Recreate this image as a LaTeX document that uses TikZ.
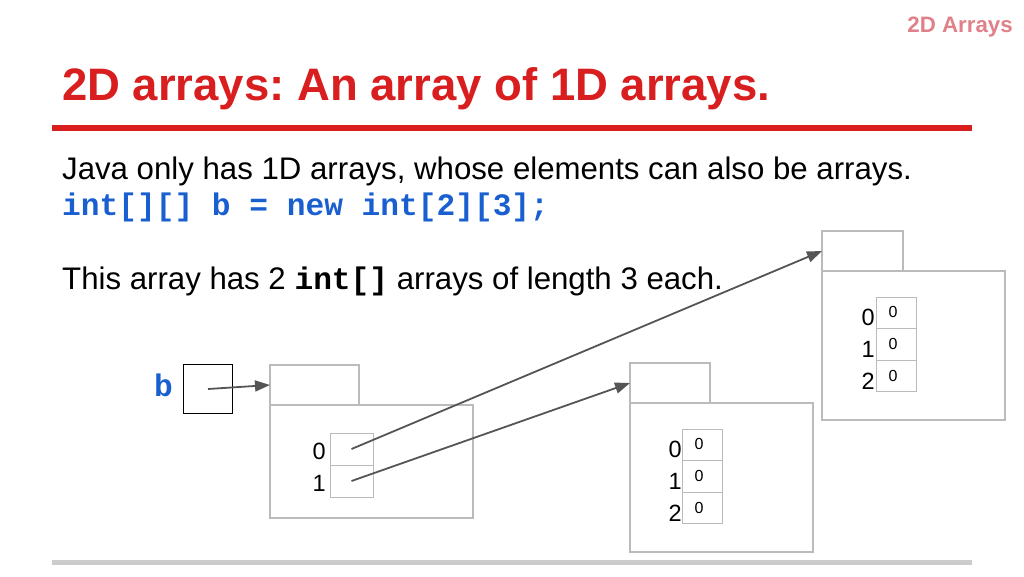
\documentclass[tikz,border=0pt]{standalone}
\usepackage{fontspec}
\setmainfont{Liberation Sans}
\setmonofont{Liberation Mono}
\usetikzlibrary{arrows.meta}
\frenchspacing
\definecolor{titlered}{HTML}{D81E1E}
\definecolor{codeblue}{HTML}{1A5FD0}
\definecolor{hdrpink}{HTML}{E08088}
\definecolor{boxgray}{HTML}{BBBBBB}
\definecolor{arrowgray}{HTML}{555555}
\definecolor{rulegray}{HTML}{CCCCCC}
\newcommand{\fs}[1]{\fontsize{#1pt}{#1pt}\selectfont}
\tikzset{
  objbox/.style={draw=boxgray, line width=1.5pt, inner sep=0pt, outer sep=0pt, anchor=north west},
  cellbox/.style={draw=boxgray, line width=1pt, minimum width=40pt, minimum height=31.5pt, inner sep=0pt, outer sep=0pt},
  val/.style={font=\fs{16}, inner sep=0pt},
  idx/.style={font=\fs{23.5}, inner sep=0pt, anchor=east},
  ptr/.style={draw=arrowgray, line width=1.8pt, -{Triangle[length=15pt,width=11pt]}},
}
\begin{document}
\begin{tikzpicture}[x=1pt,y=-1pt]
\useasboundingbox (0,0) rectangle (1024,576);
% header
\node[anchor=base east, inner sep=0pt, text=hdrpink, font=\bfseries\fs{22.3}] (hdr) at (1013,32) {2D Arrays};
\node[anchor=base west, inner sep=0pt, text=titlered, font=\bfseries\fs{45.5}] (title) at (62,100) {2D arrays: An array of 1D arrays.};
\draw[titlered, line width=6pt] (52,128) -- (972,128);
\draw[rulegray, line width=5pt] (52,562) -- (972,562);
% body text
\node[anchor=base west, inner sep=0pt, font=\fs{31.2}] (l1) at (62,179) {Java only has 1D arrays, whose elements can also be arrays.};
\node[anchor=base west, inner sep=0pt, text=codeblue, font=\ttfamily\bfseries\fs{31.2}] (l2) at (62,215) {int[][] b = new int[2][3];};
\node[anchor=base west, inner sep=0pt, font=\fs{31.2}] (l3) at (62,289) {This array has 2 {\ttfamily\bfseries int[]} arrays of length 3 each.};
% variable b
\node[anchor=base east, inner sep=0pt, text=codeblue, font=\ttfamily\bfseries\fs{31.2}] (blab) at (173,396) {b};
\node[draw=black, line width=1.5pt, minimum width=49pt, minimum height=49pt, inner sep=0pt] (bbox) at (208,389) {};
% object 1 (outer array)
\node[objbox, minimum width=89pt, minimum height=40pt] (tabA) at (270,365) {};
\node[objbox, minimum width=203pt, minimum height=113pt] (objA) at (270,405) {};
\node[cellbox, minimum width=43pt, minimum height=32pt] (a0) at (351.5,449) {};
\node[cellbox, minimum width=43pt, minimum height=32pt] (a1) at (351.5,481) {};
\node[idx] (ia0) at (326,451) {0};
\node[idx] (ia1) at (326,483) {1};
% object 2 (middle)
\node[objbox, minimum width=80pt, minimum height=40pt] (tabB) at (630,363) {};
\node[objbox, minimum width=183pt, minimum height=149pt] (objB) at (630,403) {};
\node[cellbox] (b0) at (702.5,445) {};
\node[cellbox] (b1) at (702.5,476.5) {};
\node[cellbox] (b2) at (702.5,508) {};
\node[val] (vb0) at (699,444) {0};
\node[val] (vb1) at (699,476) {0};
\node[val] (vb2) at (699,508) {0};
\node[idx] (ib0) at (682,449) {0};
\node[idx] (ib1) at (682,481) {1};
\node[idx] (ib2) at (682,513) {2};
% object 3 (right)
\node[objbox, minimum width=81pt, minimum height=40pt] (tabC) at (822,231) {};
\node[objbox, minimum width=183pt, minimum height=149pt] (objC) at (822,271) {};
\node[cellbox] (c0) at (896.5,313) {};
\node[cellbox] (c1) at (896.5,344.5) {};
\node[cellbox] (c2) at (896.5,376) {};
\node[val] (vc0) at (893,312) {0};
\node[val] (vc1) at (893,344) {0};
\node[val] (vc2) at (893,376) {0};
\node[idx] (ic0) at (875,317) {0};
\node[idx] (ic1) at (875,349) {1};
\node[idx] (ic2) at (875,381) {2};
% pointers
\draw[ptr] (bbox.center) -- (tabA.west);
\draw[ptr] (a0.center) -- (tabC.west);
\draw[ptr] (a1.center) -- (tabB.west);
\end{tikzpicture}
\end{document}
